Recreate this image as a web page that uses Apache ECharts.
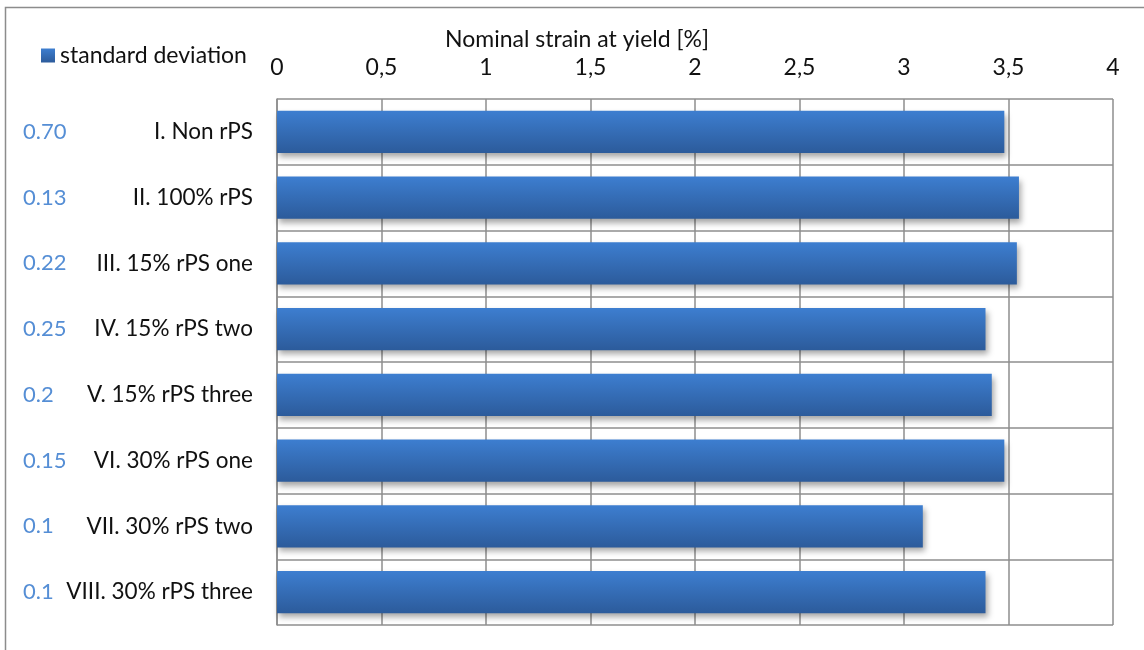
<!DOCTYPE html>
<html>
<head>
<meta charset="utf-8">
<script src="https://cdn.jsdelivr.net/npm/echarts@6/dist/echarts.min.js"></script>
<style>
  html, body { margin: 0; padding: 0; background: #fff; }
  #chart { width: 1144px; height: 650px; }
</style>
</head>
<body>
<div id="chart"></div>
<script>
// categories, top to bottom
const samples = [
  'I. Non rPS',
  'II. 100% rPS',
  'III. 15% rPS one',
  'IV. 15% rPS two',
  'V. 15% rPS three',
  'VI. 30% rPS one',
  'VII. 30% rPS two',
  'VIII. 30% rPS three'
];
// nominal strain at yield [%]
const strainAtYield = [3.48, 3.55, 3.54, 3.39, 3.42, 3.48, 3.09, 3.39];
// standard deviation, printed left of each category
const stdDev = ['0.70', '0.13', '0.22', '0.25', '0.2', '0.15', '0.1', '0.1'];

const FONT = 'Lato, "Open Sans", sans-serif';
const gridGray = '#8e8e8e';

const chart = echarts.init(document.getElementById('chart'));

const barFill = new echarts.graphic.LinearGradient(0, 0, 0, 1, [
  { offset: 0, color: '#3d7ed0' },
  { offset: 1, color: '#2c5b9b' }
]);

chart.setOption({
  animation: false,
  textStyle: { fontFamily: FONT },
  graphic: [{
    type: 'rect',
    shape: { x: 5.5, y: 7.5, width: 1160, height: 670 },
    style: { fill: 'none', stroke: '#8c8c8c', lineWidth: 1.5 },
    silent: true
  }],
  legend: {
    left: 36,
    top: 39,
    itemWidth: 14,
    itemHeight: 14,
    itemGap: 6,
    icon: 'rect',
    textStyle: { fontSize: 23, color: '#111', fontFamily: FONT },
    data: ['standard deviation']
  },
  grid: { left: 277, right: 31, top: 99, bottom: 25 },
  xAxis: {
    type: 'value',
    position: 'top',
    min: 0,
    max: 4,
    interval: 0.5,
    name: 'Nominal strain at yield [%]',
    nameLocation: 'middle',
    nameGap: 47,
    // title sits left of the axis centre in the original
    nameTextStyle: { fontSize: 23, color: '#111', fontFamily: FONT, padding: [0, 236, 0, 0] },
    axisLine: { show: false },
    axisTick: { show: false },
    axisLabel: {
      margin: 20,
      fontSize: 23,
      color: '#111',
      fontFamily: FONT,
      formatter: v => String(v).replace('.', ',')
    },
    splitLine: { show: true, lineStyle: { color: gridGray, width: 1.5 } }
  },
  yAxis: {
    type: 'category',
    inverse: true,
    data: samples,
    axisLine: { show: true, lineStyle: { color: gridGray, width: 1.5 } },
    axisTick: { show: false },
    splitLine: { show: true, lineStyle: { color: gridGray, width: 1.5 } },
    axisLabel: {
      margin: 24,
      fontFamily: FONT,
      formatter: (value, idx) => `{sd|${stdDev[idx]}}{name|${value}}`,
      rich: {
        sd: { width: 46, align: 'left', fontSize: 22, color: '#558ed5', fontFamily: FONT },
        name: { width: 184, align: 'right', fontSize: 22.5, color: '#111', fontFamily: FONT }
      }
    }
  },
  series: [{
    name: 'standard deviation',
    type: 'bar',
    data: strainAtYield,
    barWidth: '64%',
    itemStyle: {
      color: barFill,
      shadowColor: 'rgba(0,0,0,0.35)',
      shadowBlur: 6,
      shadowOffsetX: 2,
      shadowOffsetY: 4
    }
  }]
});
</script>
</body>
</html>
